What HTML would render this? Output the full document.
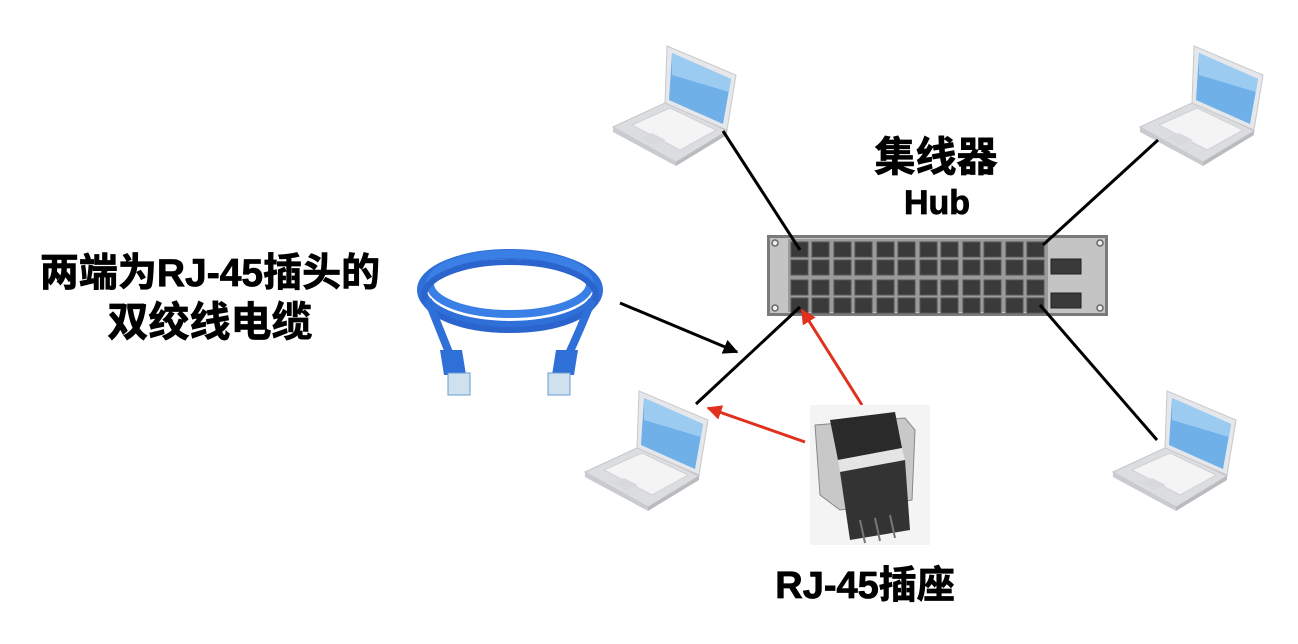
<!DOCTYPE html>
<html><head><meta charset="utf-8"><style>
body{margin:0;background:#fff;width:1298px;height:644px;overflow:hidden}
svg{display:block}
text{font-family:"Liberation Sans","Noto Sans CJK SC",sans-serif;font-weight:bold;fill:#000;stroke:#000;stroke-width:0.8}
</style></head><body>
<svg width="1298" height="644" viewBox="0 0 1298 644">
<defs>
<g id="lap">
<polygon points="613,127 667,102 727,131 676,162" fill="#dcdde0" stroke="#c4c6ca"/>
<polygon points="613,127 676,162 676,166 613,132" fill="#c9cbcf"/>
<polygon points="676,162 727,131 727,135 676,166" fill="#b9bbbf"/>
<polygon points="632,125 670,108 716,130 680,150" fill="#f4f4f5" stroke="#cfd1d4"/>
<polygon points="640,138 652,133 666,140 654,145" fill="#d8d9dc"/>
<polygon points="667,46 736,75 727,130 665,103" fill="#e6e7ea" stroke="#c7c9cc"/>
<polygon points="672,53 731,79 723,124 669,100" fill="#6fb0e8"/>
<polygon points="672,53 731,79 729,92 672,75" fill="#9ccbf1"/>
</g>
<marker id="ab" viewBox="0 0 10 10" refX="9" refY="5" markerWidth="5" markerHeight="5" orient="auto"><path d="M0,0 L10,5 L0,10 z" fill="#000"/></marker>
<marker id="ar" viewBox="0 0 10 10" refX="9" refY="5" markerWidth="5" markerHeight="5" orient="auto"><path d="M0,0 L10,5 L0,10 z" fill="#e0301e"/></marker>
</defs>

<use href="#lap"/>
<use href="#lap" transform="translate(527,0)"/>
<use href="#lap" transform="translate(-28,345)"/>
<use href="#lap" transform="translate(500,345)"/>

<!-- hub -->
<rect x="767" y="235" width="341" height="81" fill="#7a7a7a"/>
<rect x="770" y="238" width="335" height="75" fill="#c4c4c4"/>
<rect x="788" y="239" width="260" height="73" fill="#9a9a9a"/>
<g fill="#3a3a3a" stroke="#555" stroke-width="1">
<g id="row">
<rect x="791" y="242" width="17" height="15"/><rect x="812" y="242" width="17" height="15"/><rect x="834" y="242" width="17" height="15"/><rect x="855" y="242" width="17" height="15"/><rect x="877" y="242" width="17" height="15"/><rect x="898" y="242" width="17" height="15"/><rect x="920" y="242" width="17" height="15"/><rect x="941" y="242" width="17" height="15"/><rect x="963" y="242" width="17" height="15"/><rect x="984" y="242" width="17" height="15"/><rect x="1006" y="242" width="17" height="15"/><rect x="1027" y="242" width="17" height="15"/>
</g>
<use href="#row" transform="translate(0,18)"/>
<use href="#row" transform="translate(0,38)"/>
<use href="#row" transform="translate(0,56)"/>
</g>
<rect x="1051" y="259" width="30" height="15" fill="#3a3a3a" stroke="#222"/>
<rect x="1051" y="293" width="30" height="15" fill="#3a3a3a" stroke="#222"/>
<g fill="#eee" stroke="#666" stroke-width="1.5">
<circle cx="775" cy="243" r="3"/><circle cx="775" cy="308" r="3"/><circle cx="1100" cy="243" r="3"/><circle cx="1100" cy="308" r="3"/>
</g>

<!-- lines -->
<g stroke="#000" stroke-width="3">
<line x1="723" y1="131" x2="800" y2="250"/>
<line x1="1158" y1="140" x2="1043" y2="245"/>
<line x1="696" y1="404" x2="800" y2="307"/>
<line x1="1040" y1="305" x2="1157" y2="440"/>
<line x1="620" y1="303" x2="737" y2="352" marker-end="url(#ab)"/>
</g>
<g stroke="#e0301e" stroke-width="3">
<line x1="862" y1="405" x2="802" y2="310" marker-end="url(#ar)"/>
<line x1="805" y1="442" x2="708" y2="408" marker-end="url(#ar)"/>
</g>

<!-- cable -->
<g fill="none" stroke="#2f6fd8">
<ellipse cx="510" cy="290" rx="88" ry="36" stroke-width="10"/>
<ellipse cx="510" cy="284" rx="80" ry="30" stroke-width="8" stroke="#3a7fe6"/>
<ellipse cx="510" cy="296" rx="86" ry="34" stroke-width="6" stroke="#2a64cc"/>
<path d="M428,300 Q440,330 452,360" stroke-width="8"/>
<path d="M592,300 Q580,330 566,360" stroke-width="8"/>
</g>
<polygon points="440,350 462,350 466,375 444,375" fill="#2f6fd8"/>
<polygon points="556,350 578,350 574,375 552,375" fill="#2f6fd8"/>
<rect x="448" y="373" width="22" height="22" fill="#cfe0ef" stroke="#6a9bd1"/>
<rect x="548" y="373" width="22" height="22" fill="#cfe0ef" stroke="#6a9bd1"/>

<!-- jack -->
<rect x="810" y="405" width="120" height="140" fill="#f4f4f4"/>
<polygon points="815,425 905,418 915,430 912,500 840,510 820,495" fill="#c8c8c8" stroke="#888"/>
<polygon points="830,420 895,412 902,448 838,460" fill="#2a2a2a"/>
<polygon points="838,460 902,448 905,460 840,472" fill="#e5e5e5"/>
<polygon points="840,472 905,460 910,530 850,540" fill="#333"/>
<g stroke="#777" stroke-width="2"><line x1="860" y1="520" x2="865" y2="543"/><line x1="875" y1="518" x2="880" y2="541"/><line x1="890" y1="515" x2="895" y2="538"/></g>

<!-- text -->
<text x="210" y="286" font-size="39" text-anchor="middle">两端为RJ-45插头的</text>
<text x="210" y="336" font-size="41" text-anchor="middle">双绞线电缆</text>
<text x="936" y="171" font-size="41" text-anchor="middle">集线器</text>
<text x="937" y="214" font-size="34" text-anchor="middle">Hub</text>
<text x="865" y="598" font-size="38" text-anchor="middle">RJ-45插座</text>
</svg>
</body></html>
